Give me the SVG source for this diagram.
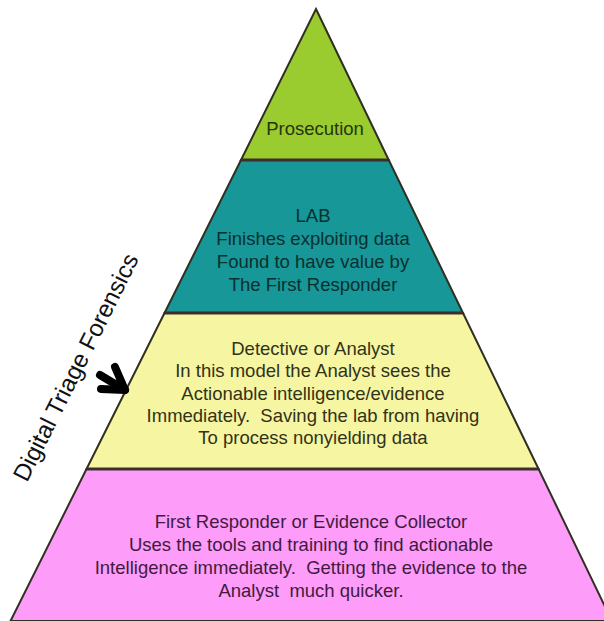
<svg xmlns="http://www.w3.org/2000/svg" width="604" height="621" viewBox="0 0 604 621">
  <style>
    .band { stroke: #2f2f22; stroke-width: 2; stroke-linejoin: miter; }
    .t { font-family: "Liberation Sans", Arial, sans-serif; font-size: 18.5px; text-anchor: middle; }
    .sep { stroke: #3a2f2a; stroke-width: 3; }
  </style>
  <rect width="604" height="621" fill="#ffffff"/>

  <g id="first-responder">
    <polygon class="band" points="86.5,469 538.6,469 612,621 10.5,621" fill="#fd9cf9"/>
    <text class="t" fill="#421a40" x="311" y="528">First Responder or Evidence Collector</text>
    <text class="t" fill="#421a40" x="311" y="551">Uses the tools and training to find actionable</text>
    <text class="t" fill="#421a40" x="311" y="574" xml:space="preserve">Intelligence immediately.  Getting the evidence to the</text>
    <text class="t" fill="#421a40" x="311" y="597" xml:space="preserve">Analyst  much quicker.</text>
  </g>

  <g id="detective">
    <polygon class="band" points="164.5,313 463,313 538.6,469 86.5,469" fill="#f6f6a2"/>
    <text class="t" fill="#323218" x="313" y="355">Detective or Analyst</text>
    <text class="t" fill="#323218" x="313" y="377">In this model the Analyst sees the</text>
    <text class="t" fill="#323218" x="313" y="400">Actionable intelligence/evidence</text>
    <text class="t" fill="#323218" x="313" y="422" xml:space="preserve">Immediately.  Saving the lab from having</text>
    <text class="t" fill="#323218" x="313" y="444">To process nonyielding data</text>
  </g>

  <g id="lab">
    <polygon class="band" points="241,160 388.75,160 463,313 164.5,313" fill="#179797"/>
    <text class="t" fill="#0a3030" x="313" y="222">LAB</text>
    <text class="t" fill="#0a3030" x="313" y="245">Finishes exploiting data</text>
    <text class="t" fill="#0a3030" x="313" y="268">Found to have value by</text>
    <text class="t" fill="#0a3030" x="313" y="291">The First Responder</text>
  </g>

  <g id="prosecution">
    <polygon class="band" points="316,9 388.75,160 241,160" fill="#9acb2f"/>
    <text class="t" fill="#25350c" x="315" y="135">Prosecution</text>
  </g>

  <g id="separators">
    <line class="sep" x1="241" y1="160" x2="388.75" y2="160"/>
    <line class="sep" x1="164.5" y1="313" x2="463" y2="313"/>
    <line class="sep" x1="86.5" y1="469" x2="538.6" y2="469"/>
  </g>

  <g id="label">
    <text transform="translate(27,483) rotate(-63.43)" x="0" y="0" font-family="Liberation Sans, Arial, sans-serif" font-size="24" fill="#111111">Digital Triage Forensics</text>
  </g>

  <g id="connectors" fill="none" stroke="#000000" stroke-width="8" stroke-linecap="round" stroke-linejoin="round">
    <path d="M100,375 L125,390"/>
    <path d="M115,367 L125,390 L101,389"/>
  </g>
</svg>
